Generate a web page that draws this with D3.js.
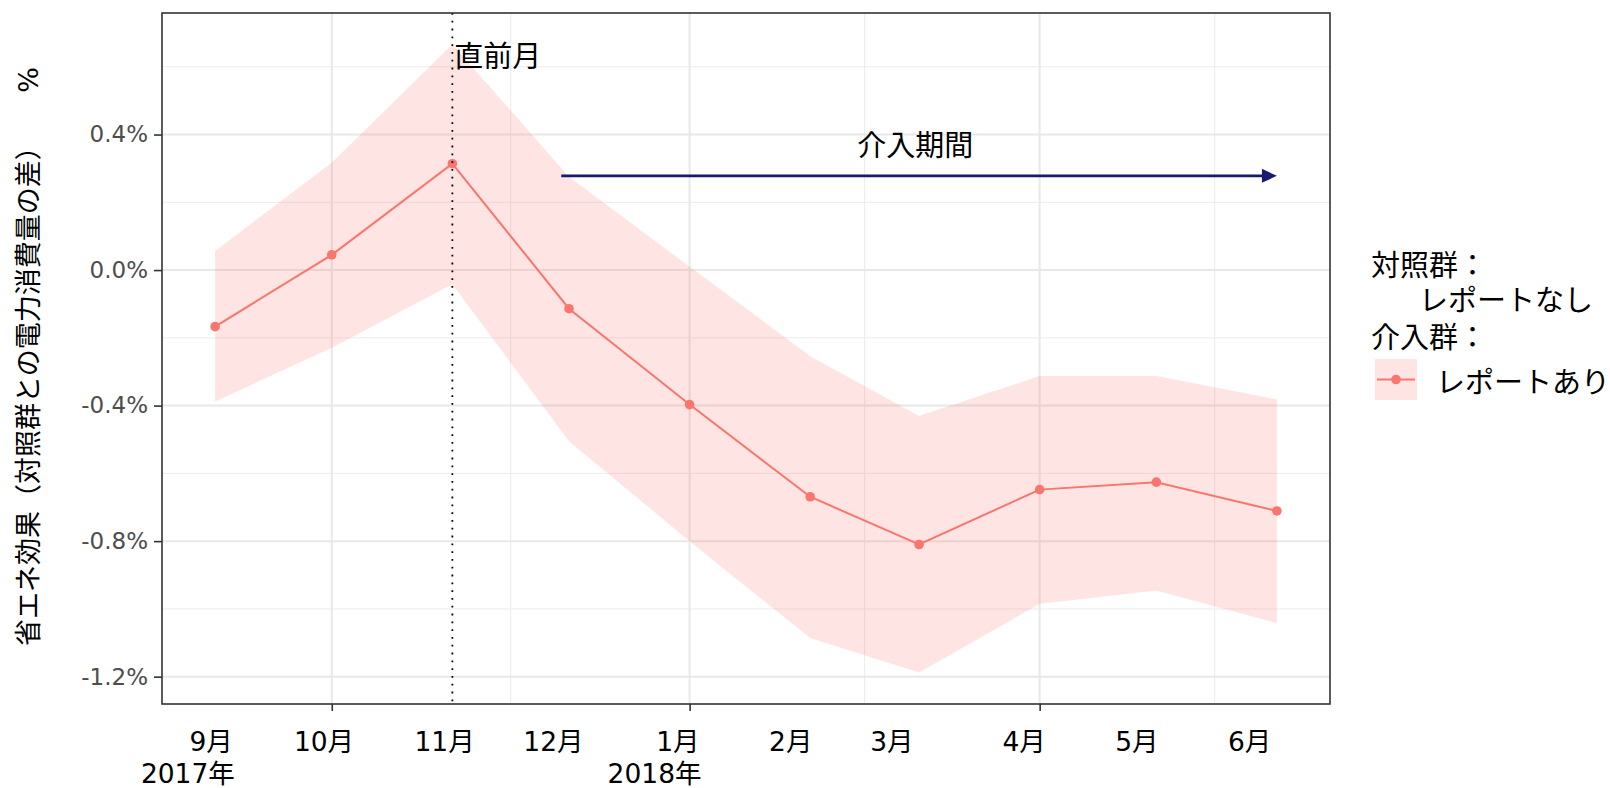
<!DOCTYPE html>
<html>
<head>
<meta charset="utf-8">
<script src="https://cdn.jsdelivr.net/npm/d3@7/dist/d3.min.js"></script>
<style>
    body { margin: 0; background: #fff; }
    svg text { font-family: "DejaVu Sans", "Noto Sans CJK JP", sans-serif; }
    svg text.jp { font-family: "Noto Sans CJK JP", sans-serif; }
</style>
</head>
<body>
<div id="chart"></div>
<script>
// data (percent), one value per month
const months = ['2017-09-01', '2017-10-01', '2017-11-01', '2017-12-01', '2018-01-01',
                '2018-02-01', '2018-03-01', '2018-04-01', '2018-05-01', '2018-06-01'];
const estimate = [-0.167, 0.045, 0.314, -0.114, -0.397, -0.669, -0.810, -0.648, -0.626, -0.711];
const upper    = [0.056, 0.317, 0.666, 0.275, 0.010, -0.254, -0.431, -0.313, -0.313, -0.382];
const lower    = [-0.388, -0.229, -0.042, -0.505, -0.800, -1.086, -1.188, -0.985, -0.946, -1.042];

// labels under the axis (placed by date)
const monthLabels = ['9月', '10月', '11月', '12月', '1月', '2月', '3月', '4月', '5月', '6月'];
const monthLabelDates = ['2017-08-31', '2017-09-29', '2017-10-30', '2017-11-27', '2017-12-29',
                         '2018-01-27', '2018-02-22', '2018-03-28', '2018-04-26', '2018-05-25'];
const yearLabels = ['2017年', '2018年'];
const yearLabelDates = ['2017-08-25', '2017-12-23'];

// axis breaks
const yTicks = [-1.2, -0.8, -0.4, 0.0, 0.4];
const xTicks = ['2017-10-01', '2018-01-01', '2018-04-01'];

// annotations
const refMonth = '2017-11-01';
const refLabel = '直前月';
const arrowSpan = ['2017-11-29', '2018-06-01'];
const arrowLevel = 0.278;
const arrowLabel = '介入期間';
const arrowLabelAt = ['2018-02-28', 0.375];

const W = 1610, H = 788;
const panel = { left: 162, right: 1330, top: 13, bottom: 704 };
const red = '#F8766D';

const parse = d3.utcParse('%Y-%m-%d');
const dates = months.map(parse);
const rows = dates.map((d, i) => ({ date: d, est: estimate[i], hi: upper[i], lo: lower[i] }));

const svg = d3.select('#chart').append('svg')
    .attr('width', W).attr('height', H)
    .style('background', '#fff');

// scales with ggplot-like 5% expansion
const t0 = +dates[0], t1 = +dates[dates.length - 1];
const tpad = (t1 - t0) * 0.05;
const x = d3.scaleUtc()
    .domain([new Date(t0 - tpad), new Date(t1 + tpad)])
    .range([panel.left, panel.right]);

const ymin = d3.min(lower), ymax = d3.max(upper);
const ypad = (ymax - ymin) * 0.05;
const y = d3.scaleLinear()
    .domain([ymin - ypad, ymax + ypad])
    .range([panel.bottom, panel.top]);

// minor breaks: midpoints between majors (with one extra step each side)
const minorsOf = (vals) => {
    const step0 = vals[1] - vals[0], stepN = vals[vals.length - 1] - vals[vals.length - 2];
    const ext = [vals[0] - step0, ...vals, vals[vals.length - 1] + stepN];
    return d3.pairs(ext).map(([a, b]) => (a + b) / 2);
};
const xMajor = xTicks.map(parse);
const xMinor = minorsOf(xMajor.map(Number)).map(v => new Date(v))
    .filter(d => x(d) > panel.left && x(d) < panel.right);
const yMinor = minorsOf(yTicks).filter(v => y(v) > panel.top && y(v) < panel.bottom);

const grid = svg.append('g');
grid.selectAll('.ymin').data(yMinor).enter().append('line')
    .attr('x1', panel.left).attr('x2', panel.right)
    .attr('y1', d => y(d)).attr('y2', d => y(d))
    .attr('stroke', '#EBEBEB').attr('stroke-width', 1);
grid.selectAll('.xmin').data(xMinor).enter().append('line')
    .attr('y1', panel.top).attr('y2', panel.bottom)
    .attr('x1', d => x(d)).attr('x2', d => x(d))
    .attr('stroke', '#EBEBEB').attr('stroke-width', 1);
grid.selectAll('.ymaj').data(yTicks).enter().append('line')
    .attr('x1', panel.left).attr('x2', panel.right)
    .attr('y1', d => y(d)).attr('y2', d => y(d))
    .attr('stroke', '#E8E8E8').attr('stroke-width', 2);
grid.selectAll('.xmaj').data(xMajor).enter().append('line')
    .attr('y1', panel.top).attr('y2', panel.bottom)
    .attr('x1', d => x(d)).attr('x2', d => x(d))
    .attr('stroke', '#E8E8E8').attr('stroke-width', 2);

// confidence band
svg.append('path')
    .datum(rows)
    .attr('d', d3.area().x(d => x(d.date)).y0(d => y(d.lo)).y1(d => y(d.hi)))
    .attr('fill', red).attr('fill-opacity', 0.2);

// estimate line + points
svg.append('path')
    .datum(rows)
    .attr('d', d3.line().x(d => x(d.date)).y(d => y(d.est)))
    .attr('fill', 'none').attr('stroke', red).attr('stroke-width', 2);
svg.selectAll('.pt').data(rows).enter().append('circle')
    .attr('cx', d => x(d.date)).attr('cy', d => y(d.est))
    .attr('r', 4.8).attr('fill', red);

// reference month (dotted)
const xr = x(parse(refMonth));
svg.append('line')
    .attr('x1', xr).attr('x2', xr).attr('y1', panel.top).attr('y2', panel.bottom)
    .attr('stroke', '#000').attr('stroke-width', 1.8).attr('stroke-dasharray', '1.8 6');
svg.append('text').attr('class', 'jp')
    .attr('x', xr + 2).attr('y', y(0.637))
    .attr('dominant-baseline', 'central')
    .style('font-size', '29px')
    .text(refLabel);

// intervention period arrow
const ax0 = x(parse(arrowSpan[0])), ax1 = x(parse(arrowSpan[1])), ay = y(arrowLevel);
const headLen = 15, headHalf = 7;
svg.append('line')
    .attr('x1', ax0).attr('x2', ax1 - headLen + 1).attr('y1', ay).attr('y2', ay)
    .attr('stroke', '#191970').attr('stroke-width', 2.6);
svg.append('path')
    .attr('d', `M${ax1},${ay}L${ax1 - headLen},${ay - headHalf}L${ax1 - headLen},${ay + headHalf}Z`)
    .attr('fill', '#191970');
svg.append('text').attr('class', 'jp')
    .attr('x', x(parse(arrowLabelAt[0]))).attr('y', y(arrowLabelAt[1]))
    .attr('text-anchor', 'middle').attr('dominant-baseline', 'central')
    .style('font-size', '29px')
    .text(arrowLabel);

// panel border
svg.append('rect')
    .attr('x', panel.left).attr('y', panel.top)
    .attr('width', panel.right - panel.left).attr('height', panel.bottom - panel.top)
    .attr('fill', 'none').attr('stroke', '#333').attr('stroke-width', 1.6);

// axes
const yAxis = svg.append('g')
    .attr('transform', `translate(${panel.left},0)`)
    .call(d3.axisLeft(y).tickValues(yTicks)
        .tickFormat(d => d.toFixed(1) + '%')
        .tickSize(8).tickSizeOuter(0).tickPadding(6));
yAxis.select('.domain').remove();
yAxis.selectAll('.tick line').attr('stroke', '#333').attr('stroke-width', 1.6);
yAxis.selectAll('.tick text').attr('fill', '#4D4D4D').style('font-size', '23px')
    .style('font-family', '"DejaVu Sans", sans-serif');

const xAxis = svg.append('g')
    .attr('transform', `translate(0,${panel.bottom})`)
    .call(d3.axisBottom(x).tickValues(xMajor).tickFormat('').tickSize(7).tickSizeOuter(0));
xAxis.select('.domain').remove();
xAxis.selectAll('.tick line').attr('stroke', '#333').attr('stroke-width', 1.6);

// month / year labels
svg.selectAll('.mlab').data(monthLabels).enter().append('text')
    .attr('x', (d, i) => x(parse(monthLabelDates[i])))
    .attr('y', 751)
    .attr('text-anchor', 'middle')
    .style('font-size', '26.5px')
    .text(d => d);
svg.selectAll('.ylab').data(yearLabels).enter().append('text')
    .attr('x', (d, i) => x(parse(yearLabelDates[i])))
    .attr('y', 783)
    .attr('text-anchor', 'middle')
    .style('font-size', '26.5px')
    .text(d => d);

// y title
svg.append('text')
    .attr('transform', `translate(28,${(panel.top + panel.bottom) / 2 - 2}) rotate(-90)`)
    .attr('text-anchor', 'middle').attr('dominant-baseline', 'central')
    .style('font-size', '27px')
    .text('省エネ効果（対照群との電力消費量の差）　　%');

// legend
const lg = svg.append('g');
lg.append('text').attr('class', 'jp').attr('x', 1371).attr('y', 263)
    .attr('dominant-baseline', 'central').style('font-size', '29px').text('対照群：');
lg.append('text').attr('class', 'jp').attr('x', 1419).attr('y', 297.5)
    .attr('dominant-baseline', 'central').style('font-size', '29px').text('レポートなし');
lg.append('text').attr('class', 'jp').attr('x', 1371).attr('y', 335)
    .attr('dominant-baseline', 'central').style('font-size', '29px').text('介入群：');
lg.append('rect').attr('x', 1375).attr('y', 359).attr('width', 42).attr('height', 41)
    .attr('fill', red).attr('fill-opacity', 0.2);
lg.append('line').attr('x1', 1377).attr('x2', 1415).attr('y1', 379.5).attr('y2', 379.5)
    .attr('stroke', red).attr('stroke-width', 2);
lg.append('circle').attr('cx', 1396).attr('cy', 379.5).attr('r', 4.8).attr('fill', red);
lg.append('text').attr('class', 'jp').attr('x', 1436).attr('y', 379.5)
    .attr('dominant-baseline', 'central').style('font-size', '29px').text('レポートあり');
</script>
</body>
</html>
